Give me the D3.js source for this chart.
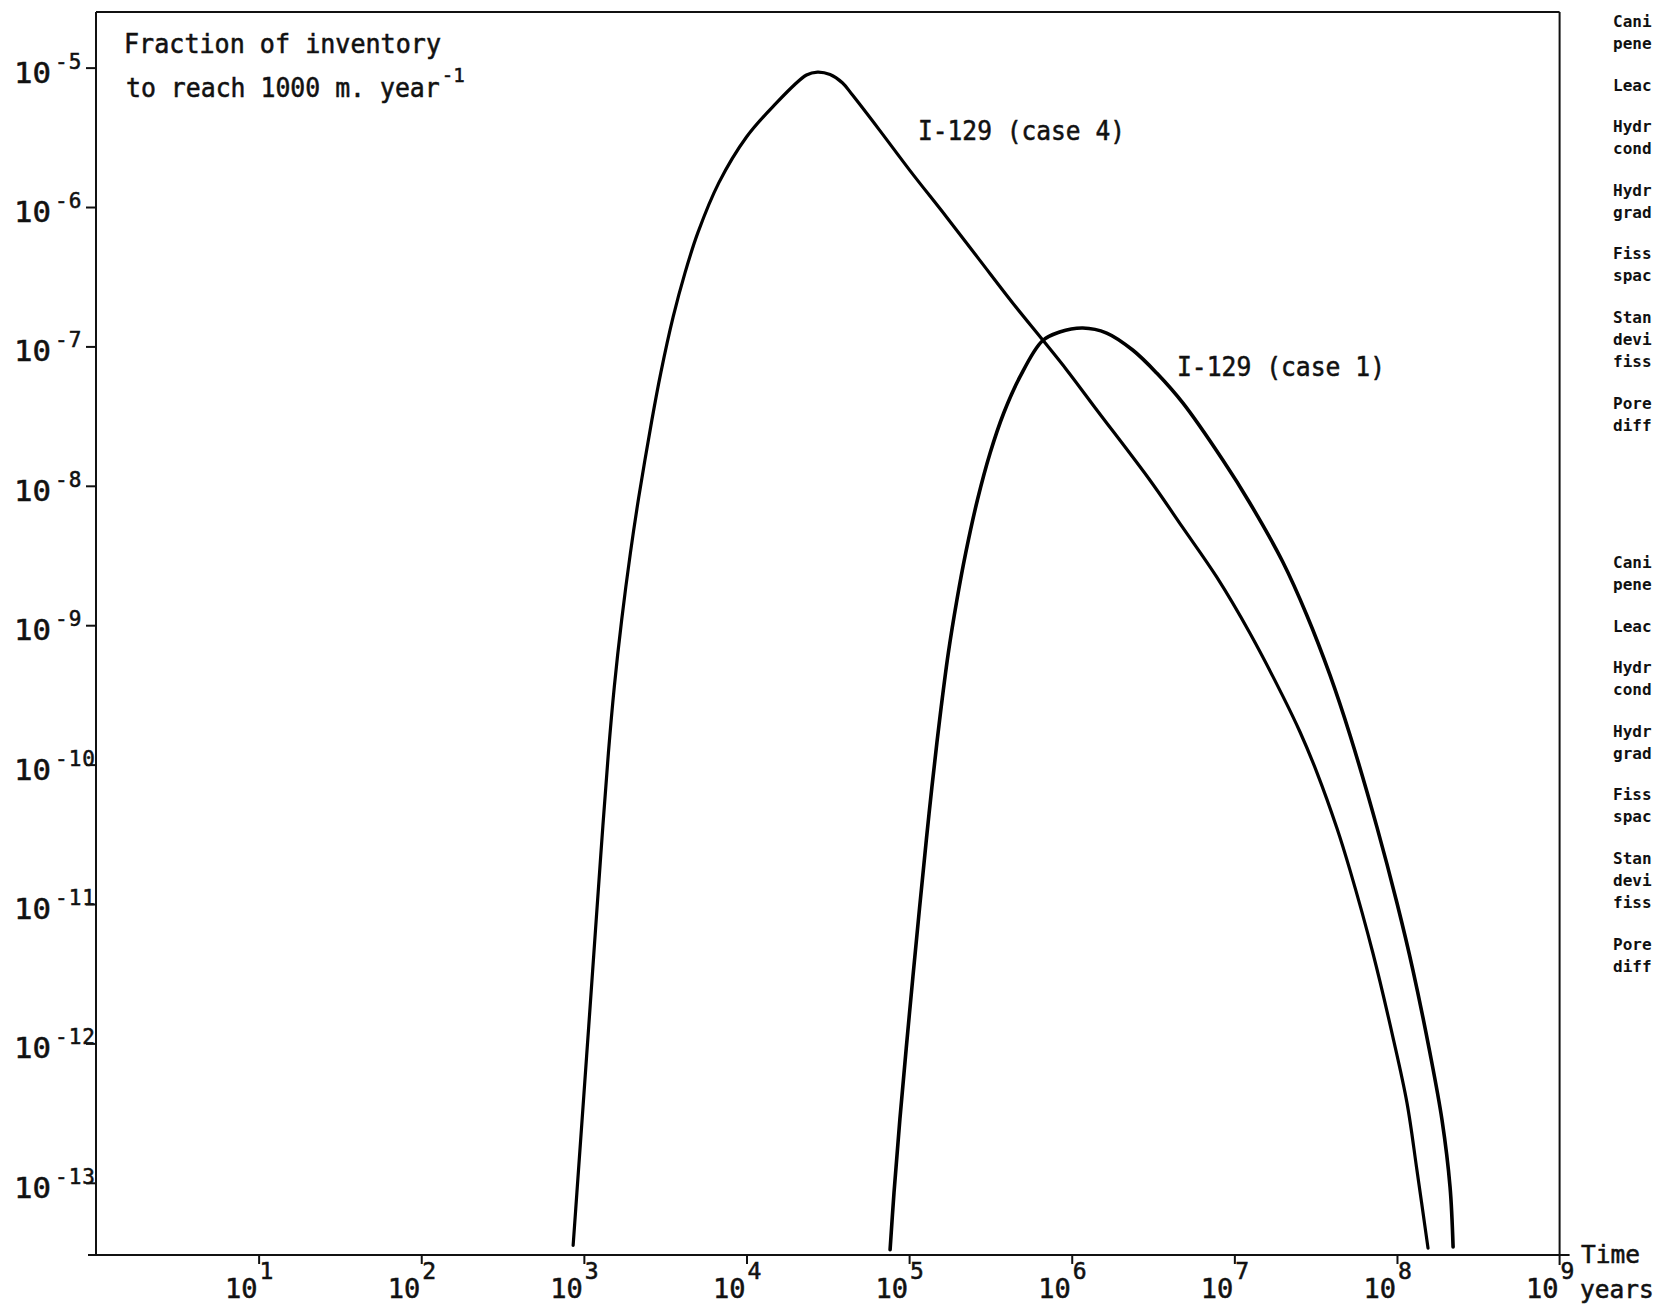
<!DOCTYPE html>
<html>
<head>
<meta charset="utf-8">
<script src="https://cdn.jsdelivr.net/npm/d3@7"></script>
<style>
  html, body { margin: 0; padding: 0; background: #fff; }
  svg { display: block; }
  text { font-family: "DejaVu Sans Mono", monospace; fill: #111; }
  .ink text, text.ink { stroke: #111; stroke-width: 0.55px; }
</style>
</head>
<body>
<svg id="chart" width="1656" height="1305"></svg>
<script>
// I-129 release: fraction of inventory reaching 1000 m per year, against time (years)
const case4Years = [859, 906, 1040, 1180, 1294, 1415, 1538, 1708, 1932, 2176,
  2619, 2972, 3537, 4186, 5018, 6755, 10000, 14450, 23390, 27350,
  32660, 39000, 44870, 65770, 100700, 170200, 271600, 433500, 663700, 931100,
  1.426e6, 3.02e6, 4.82e6, 7.80e6, 1.245e7, 1.986e7, 2.53e7, 3.22e7, 4.28e7, 5.14e7,
  7.11e7, 9.44e7, 1.153e8, 1.327e8, 1.552e8];
const case4Fraction = [3.55e-14, 8.5e-14, 8.13e-13, 6.6e-12, 3.02e-11, 1.21e-10, 3.6e-10, 1.09e-9, 3.29e-9, 8.3e-9,
  2.96e-8, 6.46e-8, 1.62e-7, 3.37e-7, 6.52e-7, 1.49e-6, 3.18e-6, 5.21e-6, 8.85e-6, 9.29e-6,
  8.92e-6, 7.76e-6, 6.35e-6, 3.56e-6, 1.84e-6, 8.45e-7, 4.16e-7, 2.05e-7, 1.11e-7, 6.78e-8,
  3.50e-8, 1.10e-8, 5.01e-9, 2.21e-9, 8.79e-10, 3.10e-10, 1.72e-10, 8.77e-11, 3.48e-11, 1.75e-11,
  4.45e-12, 1.11e-12, 3.73e-13, 1.23e-13, 3.40e-14];

const case1Years = [76400, 80750, 87800, 100400, 115900, 127600, 138100, 154000, 174200, 196600,
  222900, 263000, 314900, 381900, 480200, 658600, 843300, 1.17e6, 1.64e6, 2.37e6,
  3.33e6, 4.82e6, 8.49e6, 1.245e7, 1.986e7, 2.79e7, 3.87e7, 5.14e7, 7.53e7, 1.0e8,
  1.253e8, 1.596e8, 1.892e8, 2.12e8, 2.213e8];
const case1Fraction = [3.31e-14, 8.51e-14, 2.88e-13, 1.62e-12, 9.33e-12, 2.88e-11, 6.90e-11, 2.09e-10, 6.31e-10, 1.51e-9,
  3.30e-9, 7.91e-9, 1.72e-8, 3.33e-8, 6.04e-8, 1.094e-7, 1.268e-7, 1.355e-7, 1.247e-7, 9.42e-8,
  6.44e-8, 3.93e-8, 1.53e-8, 7.53e-9, 2.84e-9, 1.18e-9, 4.40e-10, 1.63e-10, 3.56e-11, 1.016e-11,
  3.36e-12, 8.51e-13, 2.82e-13, 9.33e-14, 3.47e-14];

const xTickExponents = [1, 2, 3, 4, 5, 6, 7, 8, 9];
const yTickExponents = [-5, -6, -7, -8, -9, -10, -11, -12, -13];
const seriesNames = ["I-129 (case 4)", "I-129 (case 1)"];
const titleLines = ["Fraction of inventory", "to reach 1000 m. year"];
const titleSuperscript = "-1";
const xAxisTitle = ["Time", "years"];
// parameter column at the right edge (cut off by the page)
const sideNotes = [["Cani", "pene"], ["Leac"], ["Hydr", "cond"], ["Hydr", "grad"],
  ["Fiss", "spac"], ["Stan", "devi", "fiss"], ["Pore", "diff"]];

const svg = d3.select("#chart");
svg.append("rect").attr("width", 1656).attr("height", 1305).attr("fill", "#fff");

const x = d3.scaleLog().domain([1, 1e9]).range([96, 1559.6]);
const y = d3.scaleLog().domain([Math.pow(10, -4.601), Math.pow(10, -13.518)]).range([12, 1255]);

const plotLeft = x(1), plotRight = x(1e9), plotTop = y.range()[0], plotBase = y.range()[1];
const ink = "#111";

// frame
const frame = svg.append("g").attr("stroke", ink).attr("fill", "none").attr("stroke-width", 2);
frame.append("line").attr("x1", plotLeft).attr("x2", plotRight).attr("y1", plotTop).attr("y2", plotTop);
frame.append("line").attr("x1", plotLeft).attr("x2", plotLeft).attr("y1", plotTop).attr("y2", plotBase);
frame.append("line").attr("x1", plotRight).attr("x2", plotRight).attr("y1", plotTop).attr("y2", plotBase + 10);
frame.append("line").attr("x1", plotLeft - 8).attr("x2", plotRight + 10).attr("y1", plotBase).attr("y2", plotBase);

// y ticks
const yAxis = d3.axisLeft(y)
  .tickValues(yTickExponents.map(e => Math.pow(10, e)))
  .tickSize(10)
  .tickFormat("");
const gy = svg.append("g").attr("transform", `translate(${plotLeft},0)`).call(yAxis);
gy.select(".domain").remove();
gy.selectAll(".tick line").attr("stroke", ink).attr("stroke-width", 2);

// x ticks
const xAxis = d3.axisBottom(x)
  .tickValues(xTickExponents.slice(0, -1).map(e => Math.pow(10, e)))
  .tickSize(9)
  .tickFormat("");
const gx = svg.append("g").attr("transform", `translate(0,${plotBase})`).call(xAxis);
gx.select(".domain").remove();
gx.selectAll(".tick line").attr("stroke", ink).attr("stroke-width", 2);

// y tick labels: 10 with superscript exponent
const yLab = svg.append("g").attr("class", "ink");
yTickExponents.forEach(e => {
  const ty = y(Math.pow(10, e));
  yLab.append("text").attr("x", 14).attr("y", ty + 15)
    .attr("font-size", 29).attr("textLength", 37).attr("lengthAdjust", "spacingAndGlyphs")
    .text("10");
  yLab.append("text").attr("x", 55).attr("y", ty + 1)
    .attr("font-size", 21).attr("letter-spacing", 1)
    .text(String(e));
});

// x tick labels
const xLab = svg.append("g").attr("class", "ink");
xTickExponents.forEach(e => {
  const tx = x(Math.pow(10, e));
  xLab.append("text").attr("x", tx - 1).attr("y", 1298)
    .attr("text-anchor", "end").attr("font-size", 27)
    .text("10");
  xLab.append("text").attr("x", tx + 1).attr("y", 1279)
    .attr("font-size", 23)
    .text(String(e));
});

// axis title at the right end of the time axis
const axisTitle = svg.append("g").attr("class", "ink");
axisTitle.append("text").attr("x", 1581).attr("y", 1263).attr("font-size", 24.5).text(xAxisTitle[0]);
axisTitle.append("text").attr("x", 1580).attr("y", 1298).attr("font-size", 24.5).text(xAxisTitle[1]);

// quantity label in the upper-left corner
const title = svg.append("g").attr("class", "ink");
title.append("text").attr("x", 124).attr("y", 53).attr("font-size", 26)
  .attr("textLength", 317).attr("lengthAdjust", "spacingAndGlyphs").text(titleLines[0]);
const unitLine = title.append("text")
  .attr("transform", "translate(126,97) scale(0.955,1)")
  .attr("font-size", 26);
unitLine.append("tspan").text(titleLines[1]);
unitLine.append("tspan").attr("dx", 2).attr("dy", -15).attr("font-size", 20).text(titleSuperscript);

// release curves
const line = d3.line()
  .x(d => x(d[0]))
  .y(d => y(d[1]))
  .curve(d3.curveCatmullRom.alpha(0.5));

const series = [
  d3.zip(case4Years, case4Fraction),
  d3.zip(case1Years, case1Fraction)
];
svg.append("g").selectAll("path").data(series).join("path")
  .attr("d", line)
  .attr("fill", "none")
  .attr("stroke", "#000")
  .attr("stroke-width", (d, i) => i === 0 ? 3.2 : 3.6)
  .attr("stroke-linejoin", "round")
  .attr("stroke-linecap", "round");

// curve labels
const curveLabels = svg.append("g").attr("class", "ink");
curveLabels.append("text").attr("x", 918).attr("y", 140).attr("font-size", 27)
  .attr("textLength", 207).attr("lengthAdjust", "spacingAndGlyphs").text(seriesNames[0]);
curveLabels.append("text").attr("x", 1177).attr("y", 376).attr("font-size", 27)
  .attr("textLength", 208).attr("lengthAdjust", "spacingAndGlyphs").text(seriesNames[1]);

// two blocks of parameter names at the right edge
const notes = svg.append("g").attr("font-weight", "bold").attr("font-size", 16);
[27, 568].forEach(startY => {
  let yy = startY;
  sideNotes.forEach(entry => {
    entry.forEach((word, k) => {
      notes.append("text").attr("x", 1613).attr("y", yy + k * 22.3).text(word);
    });
    yy += entry.length * 22.3 + 19;
  });
});
</script>
</body>
</html>
